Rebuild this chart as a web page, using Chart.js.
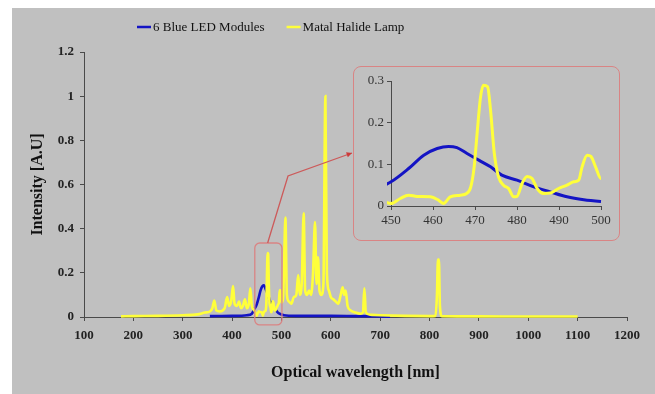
<!DOCTYPE html>
<html>
<head>
<meta charset="utf-8">
<script src="https://cdn.jsdelivr.net/npm/chart.js@4.4.1/dist/chart.umd.min.js"></script>
<style>
  html, body { margin: 0; padding: 0; background: #ffffff; }
  #wrap { position: relative; width: 655px; height: 394px; overflow: hidden; }
  #bg { position: absolute; left: 12px; top: 8px; width: 643px; height: 386px; background: #c0c0c0; }
  #main { position: absolute; left: 0; top: 0; }
  #inset { position: absolute; left: 353px; top: 66px; }
  #insetBorder { position: absolute; left: 353px; top: 66px; width: 267px; height: 175px;
    box-sizing: border-box; border: 1.5px solid #d98484; border-radius: 8px; pointer-events: none; }
</style>
</head>
<body>
<div id="wrap">
  <div id="bg"></div>
  <canvas id="main" width="655" height="394"></canvas>
  <canvas id="inset" width="267" height="175"></canvas>
  <div id="insetBorder"></div>
</div>
<script>
// ---------- data ----------
const seriesNames = ["6 Blue LED Modules", "Matal Halide Lamp"];

const ledNm  = [355, 400, 430, 440, 445, 450, 454.2, 457.8, 461, 463.7, 465.7, 468.1, 470.9, 473.7, 476.4, 480, 484, 487.9, 491.9, 495.9, 500, 505, 515, 550, 600, 650, 700, 720];
const ledVal = [0.004, 0.005, 0.008, 0.015, 0.035, 0.058, 0.09, 0.122, 0.138, 0.143, 0.14, 0.126, 0.11, 0.094, 0.074, 0.062, 0.046, 0.034, 0.022, 0.015, 0.011, 0.008, 0.006, 0.005, 0.005, 0.004, 0.003, 0.001];

const mhNm = [175, 200, 250, 300, 330, 345, 355, 360, 364, 368, 375, 385, 390, 394, 398, 402, 405, 410, 414, 418, 422, 426, 430, 434, 437, 440, 445,
  450, 452.2, 454.2, 456.2, 459.4, 461.3, 462.5, 464.1, 466.5, 468, 469, 469.8, 470.5, 471.3, 472, 473, 473.7, 474.6, 475.6, 476.8, 478, 479.2, 480,
  481.2, 482.4, 483.6, 484.8, 486.3, 487.9, 489.9, 491.9, 493.5, 494.7, 495.5, 496.7, 497.6, 498.7, 500,
  503, 505, 508, 511, 515, 520, 525, 530, 534, 537, 541, 545, 548, 552, 556, 560, 564, 568, 571, 574, 577, 581, 585, 589, 592, 596,
  600, 605, 610, 615, 620, 624, 627, 630, 634, 640, 650, 660, 665, 668, 671, 680, 700, 750, 800, 812, 815, 817, 819, 821, 825, 900, 1000, 1100];
const mhVal = [0.003, 0.004, 0.005, 0.008, 0.012, 0.02, 0.025, 0.04, 0.075, 0.03, 0.025, 0.04, 0.09, 0.05, 0.07, 0.14, 0.06, 0.05, 0.07, 0.04, 0.05, 0.08, 0.04, 0.06, 0.13, 0.05, 0.03,
  0.006, 0.018, 0.026, 0.023, 0.022, 0.014, 0.006, 0.022, 0.026, 0.03, 0.046, 0.094, 0.174, 0.26, 0.29, 0.286, 0.23, 0.126, 0.07, 0.05, 0.042, 0.022, 0.023,
  0.054, 0.071, 0.066, 0.042, 0.03, 0.031, 0.042, 0.05, 0.058, 0.062, 0.094, 0.122, 0.119, 0.094, 0.066,
  0.08, 0.2, 0.45, 0.1, 0.07, 0.06, 0.09, 0.1, 0.19, 0.1, 0.15, 0.47, 0.12, 0.1, 0.12, 0.1, 0.2, 0.43, 0.15, 0.27, 0.12, 0.1, 0.15, 1.0, 0.2, 0.12,
  0.09, 0.08, 0.07, 0.06, 0.1, 0.135, 0.1, 0.12, 0.05, 0.03, 0.02, 0.015, 0.02, 0.13, 0.02, 0.01, 0.008, 0.005, 0.004, 0.005, 0.1, 0.26, 0.26, 0.05, 0.004, 0.003, 0.002, 0.002];

const xTicksMain = [100, 1200, 100];      // min, max, step
const yTicksMain = [0, 1.2, 0.2];
const xTicksInset = [450, 500, 10];
const yTicksInset = [0, 0.3, 0.1];

// ---------- helpers ----------
function pts(xs, ys) { return xs.map((x, i) => ({ x: x, y: ys[i] })); }
const BLUE = '#1414c4';
const YELLOW = '#ffff3a';
const AXIS = '#4a4a4a';
const SERIF = "'Liberation Serif', 'Times New Roman', serif";

function makeDatasets(lw) {
  return [
    { label: seriesNames[0], data: pts(ledNm, ledVal), borderColor: BLUE, backgroundColor: BLUE,
      borderWidth: lw, pointRadius: 0, tension: 0.4, cubicInterpolationMode: 'monotone', order: 1, clip: 4 },
    { label: seriesNames[1], data: pts(mhNm, mhVal), borderColor: YELLOW, backgroundColor: YELLOW,
      borderWidth: lw, pointRadius: 0, tension: 0.4, cubicInterpolationMode: 'monotone', order: 0, clip: 4 }
  ];
}

// legend drawn from the chart's datasets
const topLegend = {
  id: 'topLegend',
  afterDraw(chart) {
    const c = chart.ctx;
    c.save();
    c.font = "13px " + SERIF;
    c.textBaseline = 'middle';
    c.fillStyle = '#111';
    let x = 137;
    const y = 28;
    chart.data.datasets.forEach((ds) => {
      c.strokeStyle = ds.borderColor;
      c.lineWidth = 2.5;
      c.beginPath(); c.moveTo(x, y - 1); c.lineTo(x + 14, y - 1); c.stroke();
      x += 16;
      c.fillText(ds.label, x, y);
      x += c.measureText(ds.label).width + 22;
    });
    c.restore();
  }
};

// connector: small rounded box around the zoomed region + line with arrow to inset
const connector = {
  id: 'connector',
  afterDatasetsDraw(chart) {
    const c = chart.ctx, xs = chart.scales.x, ys = chart.scales.y;
    const x0 = xs.getPixelForValue(446), x1 = xs.getPixelForValue(501);
    const y0 = ys.getPixelForValue(0.335), y1 = ys.getPixelForValue(-0.036);
    c.save();
    c.strokeStyle = '#d98484';
    c.lineWidth = 1.3;
    c.beginPath();
    c.roundRect(x0, y0, x1 - x0, y1 - y0, 5);
    c.stroke();
    const sx = xs.getPixelForValue(472);
    const mx = 288, my = 176, ex = 352, ey = 153;
    c.strokeStyle = '#cc5a5a';
    c.beginPath();
    c.moveTo(sx, y0);
    c.lineTo(mx, my);
    c.lineTo(ex, ey);
    c.stroke();
    const ang = Math.atan2(ey - my, ex - mx);
    c.fillStyle = '#cc3a3a';
    c.beginPath();
    c.moveTo(ex, ey);
    c.lineTo(ex - 6 * Math.cos(ang - 0.45), ey - 6 * Math.sin(ang - 0.45));
    c.lineTo(ex - 6 * Math.cos(ang + 0.45), ey - 6 * Math.sin(ang + 0.45));
    c.closePath();
    c.fill();
    c.restore();
  }
};

function fmt(v) { return String(+Number(v).toFixed(2)); }

// ---------- main chart ----------
new Chart(document.getElementById('main'), {
  type: 'line',
  data: { datasets: makeDatasets(2.6) },
  plugins: [connector, topLegend],
  options: {
    responsive: false, animation: false, devicePixelRatio: 1,
    layout: { padding: { left: 12, top: 52, right: 28, bottom: 0 } },
    plugins: { legend: { display: false }, tooltip: { enabled: false } },
    scales: {
      x: {
        type: 'linear', min: xTicksMain[0], max: xTicksMain[1],
        ticks: { stepSize: xTicksMain[2], color: '#222', font: { family: SERIF, size: 13, weight: 'bold' }, padding: 7, maxRotation: 0, callback: fmt },
        grid: { drawOnChartArea: false, drawTicks: true, tickLength: 4, color: AXIS },
        border: { color: AXIS, width: 1 },
        title: { display: true, text: 'Optical wavelength [nm]', color: '#111',
          font: { family: SERIF, size: 16, weight: 'bold' }, padding: { top: 0, bottom: 12 } },
        afterFit(s) { s.height = 77; }
      },
      y: {
        type: 'linear', min: yTicksMain[0], max: yTicksMain[1],
        ticks: { stepSize: yTicksMain[2], color: '#222', font: { family: SERIF, size: 13, weight: 'bold' }, padding: 6, callback: fmt },
        grid: { drawOnChartArea: false, drawTicks: true, tickLength: 4, color: AXIS },
        border: { color: AXIS, width: 1 },
        title: { display: true, text: 'Intensity [A.U]', color: '#111',
          font: { family: SERIF, size: 16, weight: 'bold' }, padding: { top: 16, bottom: 0 } },
        afterFit(s) { s.width = 72; }
      }
    }
  }
});

// ---------- inset chart ----------
new Chart(document.getElementById('inset'), {
  type: 'line',
  data: { datasets: makeDatasets(3) },
  options: {
    responsive: false, animation: false, devicePixelRatio: 1,
    layout: { padding: { left: 0, top: 15, right: 19, bottom: 0 } },
    plugins: { legend: { display: false }, tooltip: { enabled: false } },
    scales: {
      x: {
        type: 'linear', min: xTicksInset[0], max: xTicksInset[1],
        ticks: { stepSize: xTicksInset[2], color: '#333', font: { family: SERIF, size: 13 }, padding: 3, maxRotation: 0 },
        grid: { drawOnChartArea: false, drawTicks: true, tickLength: 4, color: AXIS },
        border: { color: AXIS, width: 1 },
        afterFit(s) { s.height = 35; }
      },
      y: {
        type: 'linear', min: yTicksInset[0], max: yTicksInset[1],
        ticks: { stepSize: yTicksInset[2], color: '#333', font: { family: SERIF, size: 13 }, padding: 3, callback: fmt },
        grid: { drawOnChartArea: false, drawTicks: true, tickLength: 4, color: AXIS },
        border: { color: AXIS, width: 1 },
        afterFit(s) { s.width = 38; }
      }
    }
  }
});
</script>
</body>
</html>
